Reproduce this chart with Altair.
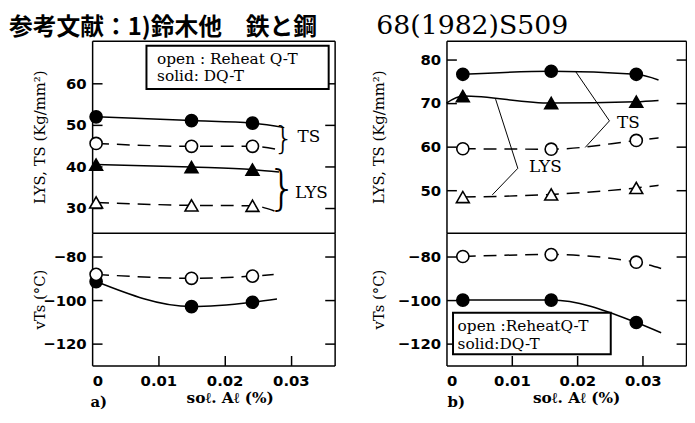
import altair as alt
import pandas as pd

TITLE_JA = "参考文献：1)鈴木他　鉄と鋼"
TITLE_REF = "68(1982)S509"
X_TITLE = "soℓ. Aℓ (%)"
Y_TITLE_TOP = "LYS, TS (Kg/mm²)"
Y_TITLE_BOT = "vTs (°C)"

# ---------------- panel a) ----------------
a_x = [0.0006, 0.0150, 0.0242]
a_ts_dq = [51.9, 51.0, 50.4]       # solid circle
a_ts_rq = [45.5, 44.8, 44.8]       # open circle
a_lys_dq = [40.4, 39.8, 39.2]      # solid triangle
a_lys_rq = [31.3, 30.6, 30.5]      # open triangle
a_vts_rq = [-88.2, -90.0, -89.0]   # open circle
a_vts_dq = [-91.5, -103.0, -101.0]  # solid circle
# where each curve ends (the curves run on past the last marker)
a_ts_dq_end = (0.0290, 49.3)
a_ts_rq_end = (0.0282, 44.0)
a_lys_dq_end = (0.0282, 38.6)
a_lys_rq_end = (0.0276, 29.2)
a_vts_rq_end = (0.0274, -88.3)
a_vts_dq_end = (0.0279, -99.5)

# ---------------- panel b) ----------------
b_x = [0.0025, 0.0160, 0.0290]
b_ts_dq = [76.6, 77.3, 76.6]
b_lys_dq = [71.6, 70.0, 70.3]
b_ts_rq = [59.5, 59.4, 61.4]
b_lys_rq = [48.4, 49.0, 50.5]
b_vts_rq = [-80.0, -79.1, -82.6]
b_vts_dq = [-100.0, -100.0, -110.3]
b_ts_dq_end = (0.0324, 75.3)
b_lys_dq_start = (0.0, 70.0)
b_lys_dq_end = (0.0324, 70.6)
b_ts_rq_end = (0.0324, 62.0)
b_lys_rq_end = (0.0324, 51.1)
b_vts_rq_end = (0.0328, -85.5)
b_vts_dq_end = (0.0328, -115.0)

# axis ranges / ticks
X_DOMAIN = [0, 0.0366]
X_LABELS = [0, 0.01, 0.02, 0.03]
X_TICKS = [0.01, 0.02, 0.03]
A_TOP_DOMAIN = [24.0, 70.2]
A_TOP_TICKS = [30, 40, 50, 60]
B_TOP_DOMAIN = [40.2, 84.3]
B_TOP_TICKS = [50, 60, 70, 80]
BOT_DOMAIN = [-130.0, -69.1]
BOT_TICKS = [-80, -100, -120]

# annotations (data coordinates)
a_legend_box = {"x": 0.0082, "x2": 0.0357, "y": 58.6, "y2": 69.0}
a_legend_text = [(0.0098, 65.9, "open : Reheat Q-T"), (0.0098, 61.6, "solid: DQ-T")]
a_braces = [(0.0289, 46.6, 33), (0.0287, 33.9, 48)]
a_labels = [(0.0327, 47.0, "TS"), (0.0331, 33.6, "LYS")]
b_legend_box = {"x": 0.0010, "x2": 0.0251, "y": -105.8, "y2": -124.9}
b_legend_text = [(0.0017, -111.9, "open :ReheatQ-T"), (0.0017, -120.2, "solid:DQ-T")]
b_labels = [(0.0278, 65.5, "TS"), (0.0151, 55.2, "LYS")]
b_ts_leader_x = [0.0197, 0.0249, 0.0212]
b_ts_leader_y = [77.3, 65.9, 59.8]
b_lys_leader_x = [0.0075, 0.0109, 0.0070]
b_lys_leader_y = [70.9, 55.0, 48.9]
panel_tags = [(0.0010, -147.0, "a)"), (0.0015, -147.0, "b)")]

# ---------------- layout (pixels inside the plot area) ----------------
W, H = 600, 328
A_RANGE = [0, 245]
B_RANGE = [358, 600]
TOP_RANGE = [194, 0]
BOT_RANGE = [328, 194]


def line_df(series):
    rows = []
    for name, xv, yv in series:
        for i, (x, y) in enumerate(zip(xv, yv)):
            rows.append({"x": x, "y": y, "s": name, "o": i})
    return pd.DataFrame(rows)


def pts(xv, yv):
    return pd.DataFrame({"x": xv, "y": yv})


def make_panel(xrange, yrange, ydom, yticks, ytitle, title_x, bottom, xtitle_x,
               solid, dashed, markers, extra):
    xs = alt.Scale(domain=X_DOMAIN, range=xrange, nice=False, zero=False)
    ys = alt.Scale(domain=ydom, range=yrange, nice=False, zero=False)
    x0, x1 = xrange
    ybot, ytop = yrange

    def X(axis=None):
        return alt.X("x:Q", scale=xs, axis=axis)

    def Y(axis=None):
        return alt.Y("y:Q", scale=ys, axis=axis)

    common = dict(grid=False, domainColor="black", domainWidth=1.5,
                  tickColor="black", tickWidth=1.5)
    tdf = pd.DataFrame({"x": [X_DOMAIN[0]] * len(yticks), "y": yticks})
    layers = []
    # --- axes / frame ---
    if bottom:
        xa1 = alt.Axis(orient="bottom", offset=-(H - ybot), values=X_LABELS,
                       ticks=False, tickSize=0, domain=True,
                       labelExpr="datum.value == 0 ? '0' : format(datum.value, '.2f')",
                       labelPadding=8, title=X_TITLE, titlePadding=2,
                       titleX=xtitle_x, titleFont="DejaVu Serif", titleFontSize=15.5,
                       titleFontWeight="bold", **common)
        xa2 = alt.Axis(orient="top", offset=-ybot, values=X_TICKS, labels=False,
                       ticks=True, tickSize=10, domain=False, title=None, **common)
    else:
        xa1 = alt.Axis(orient="top", offset=-ytop, values=X_TICKS, labels=False,
                       ticks=False, domain=True, title=None, **common)
        xa2 = alt.Axis(orient="bottom", offset=-(H - ybot), values=X_TICKS,
                       labels=False, ticks=False, domain=True, title=None, **common)
    ya1 = alt.Axis(orient="left", offset=-x0, values=yticks, ticks=False,
                   tickSize=0, labelPadding=6, domain=True, title=ytitle,
                   titleX=title_x, titleFont="DejaVu Serif", titleFontSize=15,
                   titleFontWeight="normal", **common)
    ya2 = alt.Axis(orient="right", offset=-(W - x0), values=yticks, labels=False,
                   ticks=True, tickSize=10, domain=False, title=None, **common)
    ya3 = alt.Axis(orient="left", offset=-x1, values=yticks, labels=False,
                   ticks=True, tickSize=10, domain=True, title=None, **common)
    layers.append(alt.Chart(tdf).mark_point(opacity=0).encode(x=X(xa1), y=Y(ya1)))
    layers.append(alt.Chart(tdf).mark_point(opacity=0).encode(x=X(xa2), y=Y(ya2)))
    layers.append(alt.Chart(tdf).mark_point(opacity=0).encode(x=X(), y=Y(ya3)))
    # --- curves ---
    if solid:
        layers.append(alt.Chart(line_df(solid)).mark_line(
            color="black", strokeWidth=1.5, interpolate="monotone").encode(
            x=X(), y=Y(), detail="s:N", order="o:Q"))
    if dashed:
        layers.append(alt.Chart(line_df(dashed)).mark_line(
            color="black", strokeWidth=1.5, interpolate="monotone",
            strokeDash=[13, 8]).encode(x=X(), y=Y(), detail="s:N", order="o:Q"))
    layers.extend(extra(X, Y))
    for (xv, yv, shape, filled) in markers:
        layers.append(alt.Chart(pts(xv, yv)).mark_point(
            shape=shape, filled=True, fill="black" if filled else "white",
            stroke="black", strokeWidth=1.6, opacity=1,
            size=150 if shape == "circle" else 170).encode(x=X(), y=Y()))
    return layers


def text_layer(items, X, Y, size=17, font="DejaVu Serif", weight="normal",
               align="center"):
    df = pd.DataFrame(items, columns=["x", "y", "t"])
    return alt.Chart(df).mark_text(font=font, fontSize=size, fontWeight=weight,
                                   align=align, baseline="middle",
                                   color="black").encode(x=X(), y=Y(), text="t:N")


def box_layer(b, X, Y):
    return alt.Chart(pd.DataFrame([b])).mark_rect(
        fill="white", stroke="black", strokeWidth=2).encode(
        x=X(), x2="x2:Q", y=Y(), y2="y2:Q")


def ext(xv, yv, end, start=None):
    xs_, ys_ = list(xv), list(yv)
    if start:
        xs_, ys_ = [start[0]] + xs_, [start[1]] + ys_
    return xs_ + [end[0]], ys_ + [end[1]]


def a_top_extra(X, Y):
    ls = [box_layer(a_legend_box, X, Y),
          text_layer(a_legend_text, X, Y, size=15.5, align="left"),
          text_layer(a_labels, X, Y, size=17)]
    for (x, y, s) in a_braces:
        ls.append(text_layer([(x, y, "}")], X, Y, size=s, font="DejaVu Sans",
                             weight=200))
    return ls


def a_bot_extra(X, Y):
    return [text_layer([panel_tags[0]], X, Y, size=15, weight="bold")]


def b_top_extra(X, Y):
    lead = line_df([("ts", b_ts_leader_x, b_ts_leader_y),
                    ("lys", b_lys_leader_x, b_lys_leader_y)])
    return [alt.Chart(lead).mark_line(color="black", strokeWidth=1).encode(
        x=X(), y=Y(), detail="s:N", order="o:Q"),
        text_layer(b_labels, X, Y, size=17)]


def b_bot_extra(X, Y):
    return [box_layer(b_legend_box, X, Y),
            text_layer(b_legend_text, X, Y, size=15.5, align="left"),
            text_layer([panel_tags[1]], X, Y, size=15, weight="bold")]


layers = []
layers += make_panel(
    A_RANGE, TOP_RANGE, A_TOP_DOMAIN, A_TOP_TICKS, Y_TITLE_TOP, -45, False, None,
    solid=[("ts",) + ext(a_x, a_ts_dq, a_ts_dq_end),
           ("lys",) + ext(a_x, a_lys_dq, a_lys_dq_end)],
    dashed=[("ts",) + ext(a_x, a_ts_rq, a_ts_rq_end),
            ("lys",) + ext(a_x, a_lys_rq, a_lys_rq_end)],
    markers=[(a_x, a_ts_dq, "circle", True), (a_x, a_ts_rq, "circle", False),
             (a_x, a_lys_dq, "triangle-up", True), (a_x, a_lys_rq, "triangle-up", False)],
    extra=a_top_extra)
layers += make_panel(
    A_RANGE, BOT_RANGE, BOT_DOMAIN, BOT_TICKS, Y_TITLE_BOT, -45, True, 139,
    solid=[("v",) + ext(a_x, a_vts_dq, a_vts_dq_end)],
    dashed=[("v",) + ext(a_x, a_vts_rq, a_vts_rq_end)],
    markers=[(a_x, a_vts_dq, "circle", True), (a_x, a_vts_rq, "circle", False)],
    extra=a_bot_extra)
layers += make_panel(
    B_RANGE, TOP_RANGE, B_TOP_DOMAIN, B_TOP_TICKS, Y_TITLE_TOP, -61, False, None,
    solid=[("ts",) + ext(b_x, b_ts_dq, b_ts_dq_end),
           ("lys",) + ext(b_x, b_lys_dq, b_lys_dq_end, b_lys_dq_start)],
    dashed=[("ts",) + ext(b_x, b_ts_rq, b_ts_rq_end),
            ("lys",) + ext(b_x, b_lys_rq, b_lys_rq_end)],
    markers=[(b_x, b_ts_dq, "circle", True), (b_x, b_ts_rq, "circle", False),
             (b_x, b_lys_dq, "triangle-up", True), (b_x, b_lys_rq, "triangle-up", False)],
    extra=b_top_extra)
layers += make_panel(
    B_RANGE, BOT_RANGE, BOT_DOMAIN, BOT_TICKS, Y_TITLE_BOT, -61, True, 358 + 131,
    solid=[("v",) + ext(b_x, b_vts_dq, b_vts_dq_end)],
    dashed=[("v",) + ext(b_x, b_vts_rq, b_vts_rq_end)],
    markers=[(b_x, b_vts_dq, "circle", True), (b_x, b_vts_rq, "circle", False)],
    extra=b_bot_extra)

# heading (two runs of text above the panels)
layers.append(alt.Chart(pd.DataFrame({"t": [TITLE_JA]})).mark_text(
    font="Noto Sans CJK JP", fontSize=24, fontWeight="bold", align="left",
    baseline="alphabetic", color="black").encode(
    text="t:N", x=alt.value(-84), y=alt.value(-6)))
layers.append(alt.Chart(pd.DataFrame({"t": [TITLE_REF]})).mark_text(
    font="DejaVu Serif", fontSize=27, fontWeight="normal", align="left",
    baseline="alphabetic", color="black").encode(
    text="t:N", x=alt.value(287), y=alt.value(-7)))

chart = alt.layer(*layers).resolve_scale(
    x="independent", y="independent").properties(
    width=W, height=H,
    autosize=alt.AutoSizeParams(type="none"),
    padding={"left": 85, "top": 31, "right": 1, "bottom": 46},
    background="white",
).configure_view(stroke=None).configure_axis(
    labelFont="DejaVu Sans", labelFontSize=15, labelFontWeight="bold",
    labelColor="black", titleColor="black",
)

chart.save("out.html", embed_options={"renderer": "svg", "actions": False})
